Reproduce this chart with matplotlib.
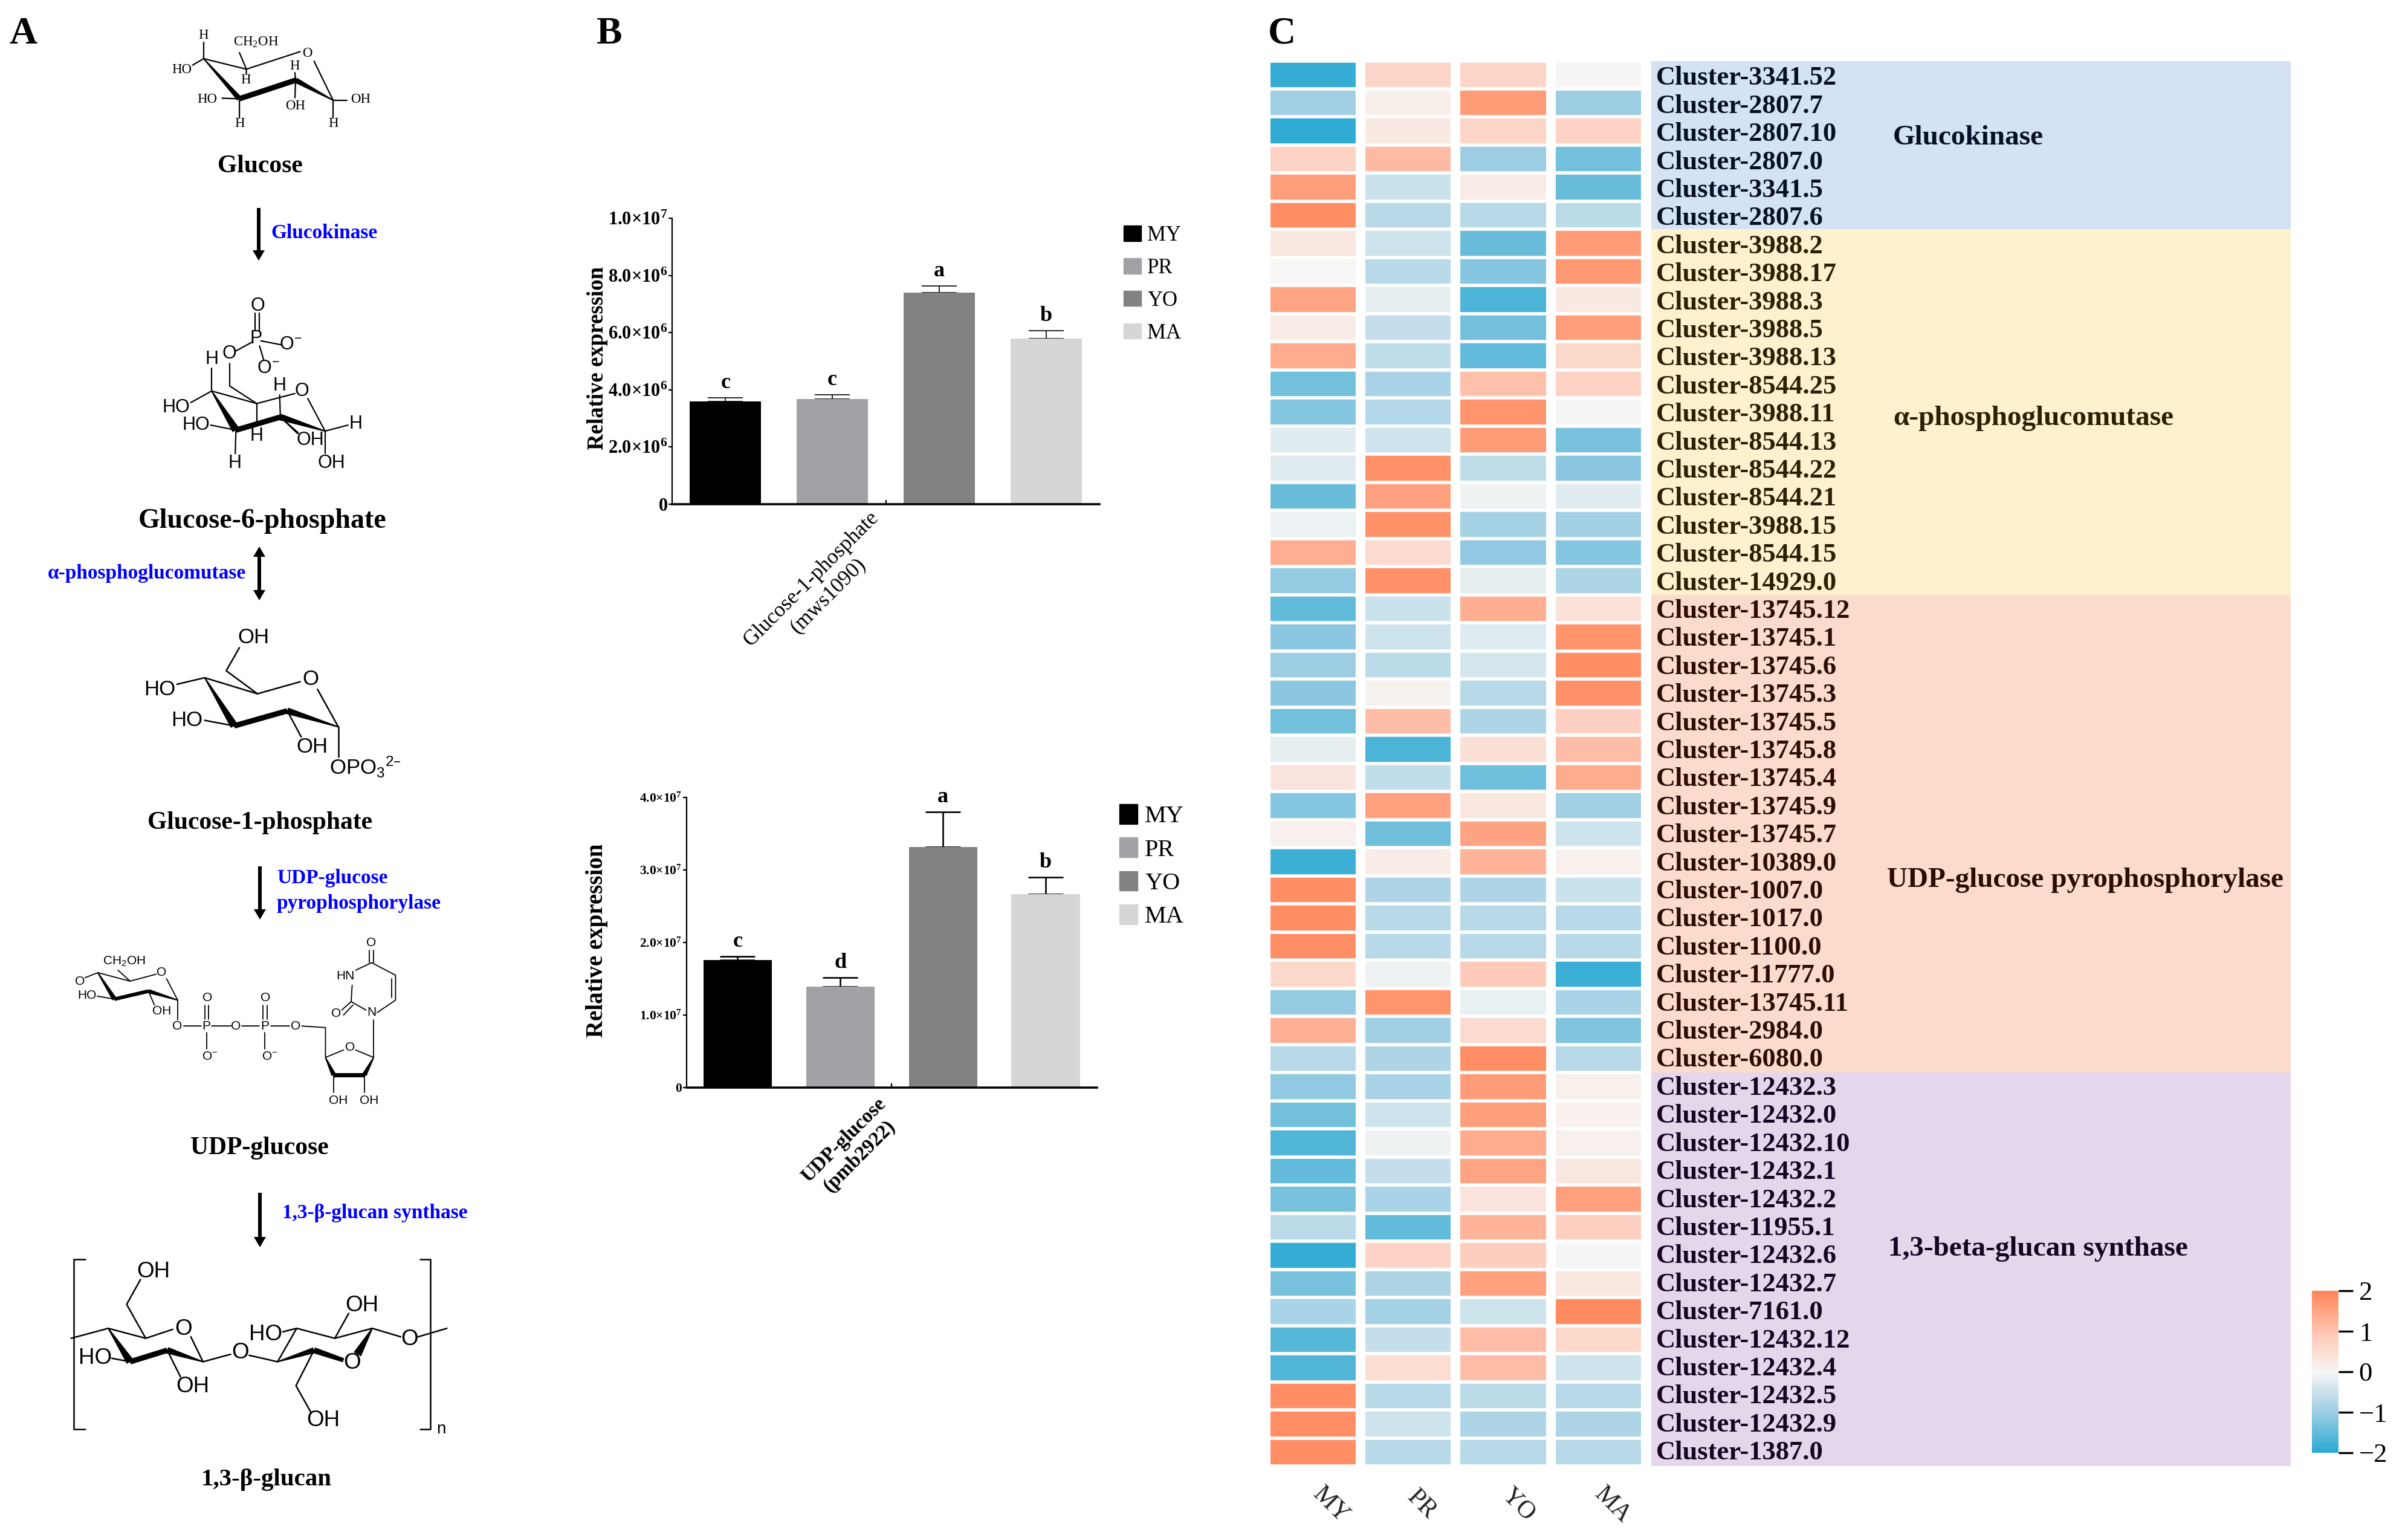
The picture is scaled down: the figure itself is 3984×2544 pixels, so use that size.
import matplotlib
matplotlib.use("Agg")
import matplotlib.pyplot as plt
import numpy as np
from matplotlib.colors import LinearSegmentedColormap, Normalize
from matplotlib.patches import Patch, Polygon, Rectangle

plt.rcParams['font.family'] = ['Liberation Serif', 'DejaVu Serif']
plt.rcParams['mathtext.default'] = 'regular'

# ---------- data ----------
stages = ['MY', 'PR', 'YO', 'MA']
stage_colors = ['#000000', '#A2A1A6', '#828282', '#D6D6D6']

g1p_values = [3.60e6, 3.68e6, 7.39e6, 5.79e6]
g1p_errors = [0.12e6, 0.14e6, 0.25e6, 0.27e6]
g1p_letters = ['c', 'c', 'a', 'b']
g1p_ticks = [0, 2e6, 4e6, 6e6, 8e6, 1e7]
g1p_ticklabels = ['0', '2.0×10$^{6}$', '4.0×10$^{6}$', '6.0×10$^{6}$', '8.0×10$^{6}$', '1.0×10$^{7}$']

udp_values = [1.755e7, 1.389e7, 3.318e7, 2.667e7]
udp_errors = [0.055e7, 0.123e7, 0.482e7, 0.23e7]
udp_letters = ['c', 'd', 'a', 'b']
udp_ticks = [0, 1e7, 2e7, 3e7, 4e7]
udp_ticklabels = ['0', '1.0×10$^{7}$', '2.0×10$^{7}$', '3.0×10$^{7}$', '4.0×10$^{7}$']

cluster_names = [
    '3341.52', '2807.7', '2807.10', '2807.0', '3341.5', '2807.6',
    '3988.2', '3988.17', '3988.3', '3988.5', '3988.13', '8544.25', '3988.11', '8544.13',
    '8544.22', '8544.21', '3988.15', '8544.15', '14929.0',
    '13745.12', '13745.1', '13745.6', '13745.3', '13745.5', '13745.8', '13745.4', '13745.9',
    '13745.7', '10389.0', '1007.0', '1017.0', '1100.0', '11777.0', '13745.11', '2984.0', '6080.0',
    '12432.3', '12432.0', '12432.10', '12432.1', '12432.2', '11955.1', '12432.6', '12432.7',
    '7161.0', '12432.12', '12432.4', '12432.5', '12432.9', '1387.0']

heat_values = [
    [-1.90, 0.65, 0.65, 0.03], [-0.95, 0.15, 1.65, -1.00], [-1.95, 0.25, 0.65, 0.70],
    [0.70, 1.15, -1.00, -1.35], [1.60, -0.50, 0.20, -1.45], [1.85, -0.70, -0.70, -0.65],
    [0.30, -0.45, -1.45, 1.65], [0.00, -0.70, -1.20, 1.70], [1.50, -0.20, -1.70, 0.25],
    [0.20, -0.55, -1.35, 1.60], [1.40, -0.60, -1.50, 0.60], [-1.35, -0.85, 1.05, 0.70],
    [-1.20, -0.75, 1.75, -0.03], [-0.25, -0.45, 1.65, -1.30], [-0.25, 1.80, -0.60, -1.15],
    [-1.45, 1.55, -0.08, -0.25], [-0.12, 1.80, -0.90, -0.95], [1.35, 0.55, -1.10, -1.20],
    [-1.05, 1.80, -0.20, -0.80], [-1.50, -0.50, 1.35, 0.40], [-1.15, -0.45, -0.27, 1.75],
    [-1.00, -0.65, -0.40, 1.85], [-1.15, 0.08, -0.70, 1.80], [-1.35, 1.10, -0.80, 0.75],
    [-0.20, -1.70, 0.45, 1.10], [0.35, -0.60, -1.40, 1.40], [-1.20, 1.55, 0.30, -0.95],
    [0.12, -1.40, 1.50, -0.45], [-1.80, 0.20, 1.25, 0.12], [1.85, -0.80, -0.80, -0.50],
    [1.85, -0.70, -0.70, -0.70], [1.85, -0.70, -0.70, -0.70], [0.60, -0.08, 0.85, -1.85],
    [-1.05, 1.75, -0.15, -0.85], [1.30, -0.95, 0.55, -1.25], [-0.70, -0.80, 1.85, -0.70],
    [-1.10, -0.85, 1.65, 0.12], [-1.35, -0.45, 1.60, 0.10], [-1.65, -0.10, 1.40, 0.12],
    [-1.50, -0.55, 1.50, 0.28], [-1.30, -0.85, 0.35, 1.55], [-0.65, -1.50, 1.25, 0.75],
    [-1.90, 0.70, 0.80, -0.03], [-1.30, -0.80, 1.55, 0.28], [-0.85, -0.90, -0.45, 1.90],
    [-1.60, -0.55, 1.10, 0.60], [-1.65, 0.50, 1.10, -0.45], [1.85, -0.70, -0.65, -0.70],
    [1.85, -0.45, -0.80, -0.80], [1.85, -0.70, -0.70, -0.70]]

group_names = ['Glucokinase', 'α-phosphoglucomutase', 'UDP-glucose pyrophosphorylase', '1,3-beta-glucan synthase']
group_sizes = [6, 13, 17, 14]
group_bands = ['#D5E2F3', '#FEF1CE', '#FBDCCC', '#E4D6EB']
group_inks = ['#050F26', '#2E1E05', '#2A0E05', '#150522']

# ---------- layout helpers ----------
W, H = 3984, 2544
PT = 0.72  # points per pixel at dpi 100
fig = plt.figure(figsize=(W / 100, H / 100), dpi=100, facecolor='white')


def px_axes(x0, y0, x1, y1, **kw):
    return fig.add_axes([x0 / W, 1 - y1 / H, (x1 - x0) / W, (y1 - y0) / H], **kw)


art = px_axes(0, 0, W, H)
art.set_xlim(0, W)
art.set_ylim(H, 0)
art.axis('off')


def z1(p):
    return (p[0] / 1.742, p[1] / 1.206)


def z2(p):
    return (p[0] / 1.742, 1250 + p[1] / 1.212)


def bonds(z, segs, lw=1.6):
    for s in segs:
        pts = [z(p) for p in s]
        art.plot(*zip(*pts), color='black', lw=lw, solid_capstyle='round', solid_joinstyle='round')


def wedge(z, a, b, wa, wb):
    a, b = np.array(z(a)), np.array(z(b))
    d = (b - a) / np.hypot(*(b - a))
    n = np.array([-d[1], d[0]])
    art.add_patch(Polygon([a + n * wa / 2, b + n * wb / 2, b - n * wb / 2, a - n * wa / 2],
                          closed=True, fc='black', ec='none'))


def labels(z, items, size, family='Liberation Sans'):
    for s, x, y in items:
        px, py = z((x, y))
        art.text(px, py, s, fontsize=size, family=family, ha='center', va='center', color='black')


def arrow(x, y0, y1, double=False):
    shaft, hw, hl = 3, 10, 17
    if double:
        pts = [(x, y0), (x + hw, y0 + hl), (x + shaft, y0 + hl), (x + shaft, y1 - hl), (x + hw, y1 - hl),
               (x, y1), (x - hw, y1 - hl), (x - shaft, y1 - hl), (x - shaft, y0 + hl), (x - hw, y0 + hl)]
    else:
        pts = [(x - shaft, y0), (x + shaft, y0), (x + shaft, y1 - hl), (x + hw, y1 - hl),
               (x, y1), (x - hw, y1 - hl), (x - shaft, y1 - hl)]
    art.add_patch(Polygon(pts, closed=True, fc='black', ec='none'))


# ---------- panel letters ----------
for s, x, y in [('A', 38, 57), ('B', 1008, 57), ('C', 2121, 57)]:
    art.text(x, y, s, fontsize=46, fontweight='bold', ha='center', va='center')

# ---------- panel A text ----------
for s, x, y, fs in [('Glucose', 430, 275, 30), ('Glucose-6-phosphate', 434, 862, 33),
                    ('Glucose-1-phosphate', 430, 1361, 30), ('UDP-glucose', 429, 1899, 30),
                    ('1,3-β-glucan', 441, 2448, 29.5)]:
    art.text(x, y, s, fontsize=fs, fontweight='bold', ha='center', va='center')
for s, x, y in [('Glucokinase', 448, 386), ('α-phosphoglucomutase', 79, 949),
                ('UDP-glucose', 458, 1452), ('pyrophosphorylase', 458, 1494),
                ('1,3-β-glucan synthase', 467, 2007)]:
    art.text(x, y, s, fontsize=24, fontweight='bold', color='#0000FF', ha='left', va='center')
arrow(428, 344, 431)
arrow(429, 904, 993, double=True)
arrow(430, 1433, 1521)
arrow(430, 1973, 2063)

# Glucose
labels(z1, [('H', 587, 70), ('CH$_{2}$OH', 737, 84), ('O', 886, 107), ('HO', 524, 139), ('H', 850, 132),
            ('H', 708, 160), ('HO', 598, 198), ('OH', 851, 212), ('OH', 1040, 198), ('H', 691, 247),
            ('H', 961, 247)], 16.5, 'Liberation Serif')
bonds(z1, [[(587, 117), (710, 138), (865, 103)], [(905, 122), (960, 200)], [(587, 85), (587, 117)],
           [(555, 130), (587, 117)], [(690, 105), (710, 138), (710, 148)], [(850, 145), (852, 160), (850, 195)],
           [(640, 196), (690, 197), (690, 235)], [(1000, 200), (960, 200), (960, 235)]])
wedge(z1, (587, 117), (690, 197), 2, 9)
wedge(z1, (690, 197), (852, 160), 9, 9)
wedge(z1, (852, 160), (960, 200), 9, 2)

# Glucose-6-phosphate
labels(z1, [('O', 742, 610), ('P', 738, 675), ('O$^{-}$', 838, 688), ('O', 661, 706), ('O$^{-}$', 773, 735),
            ('H', 610, 716), ('H', 806, 770), ('O', 870, 780), ('HO', 508, 813), ('HO', 565, 848),
            ('H', 740, 870), ('H', 1025, 846), ('OH', 895, 878), ('OH', 955, 924), ('H', 677, 924)], 22)
bonds(z1, [[(735, 625), (735, 660)], [(747, 625), (747, 660)], [(680, 700), (725, 683)], [(752, 680), (812, 688)],
           [(748, 690), (760, 718)], [(662, 725), (662, 770), (740, 805)], [(610, 780), (740, 805), (850, 785)],
           [(887, 795), (937, 860)], [(610, 735), (610, 780)], [(550, 803), (610, 780)], [(607, 848), (680, 858)],
           [(680, 858), (678, 905)], [(740, 805), (740, 850)], [(806, 788), (808, 832)], [(937, 860), (1003, 848)],
           [(937, 860), (937, 905)]])
wedge(z1, (610, 780), (680, 858), 2, 13)
wedge(z1, (680, 858), (808, 832), 9, 9)
wedge(z1, (808, 832), (937, 860), 11, 2)
wedge(z1, (808, 832), (860, 865), 2, 4)

# Glucose-1-phosphate
labels(z1, [('OH', 730, 1272), ('O', 895, 1355), ('HO', 460, 1375), ('HO', 538, 1437), ('OH', 900, 1490)], 25)
art.text(*z1((950, 1530)), 'OPO$_{3}$$^{2–}$', fontsize=25, family='Liberation Sans', ha='left', va='center')
bonds(z1, [[(690, 1292), (652, 1338), (742, 1384), (865, 1360)], [(590, 1352), (742, 1384)], [(915, 1375), (975, 1450)],
           [(510, 1365), (590, 1352)], [(590, 1437), (675, 1448)], [(828, 1418), (868, 1470)], [(975, 1450), (975, 1510)]],
      lw=1.8)
wedge(z1, (590, 1352), (675, 1448), 2, 13)
wedge(z1, (675, 1448), (828, 1418), 9, 9)
wedge(z1, (828, 1418), (975, 1450), 11, 2)

# UDP-glucose
labels(z2, [('CH$_{2}$OH', 358, 413), ('O', 465, 435), ('HO', 250, 481), ('OH', 467, 512), ('O', 510, 542),
            ('O', 597, 485), ('P', 595, 542), ('O', 680, 542), ('O', 765, 485), ('P', 763, 542), ('O', 852, 542),
            ('O$^{-}$', 605, 603), ('O$^{-}$', 778, 603), ('O', 1070, 375), ('HN', 995, 442), ('O', 968, 517),
            ('N', 1071, 515), ('O', 1008, 585), ('OH', 975, 692), ('OH', 1063, 692), ('O', 230, 453)], 15)
art.add_patch(Rectangle(z2((180, 430)), 22, 40, fc='white', ec='none', zorder=3))
bonds(z2, [[(282, 435), (375, 452), (450, 438)], [(480, 447), (512, 490)], [(245, 445), (282, 435)], [(280, 482), (330, 488)],
           [(428, 472), (445, 500)], [(512, 490), (512, 530)], [(340, 430), (375, 452)], [(530, 542), (580, 542)],
           [(610, 542), (665, 542)], [(697, 542), (748, 542)], [(780, 542), (835, 542)], [(590, 500), (590, 528)],
           [(601, 500), (601, 528)], [(758, 500), (758, 528)], [(770, 500), (770, 528)], [(595, 555), (595, 588)],
           [(763, 555), (763, 588)], [(870, 542), (938, 545), (938, 605), (990, 590)], [(1025, 590), (1077, 605)],
           [(962, 640), (962, 675)], [(1050, 640), (1050, 675)], [(1077, 605), (1077, 530)],
           [(1065, 390), (1065, 415)], [(1077, 390), (1077, 415)], [(1025, 430), (1071, 415), (1140, 440), (1140, 490), (1087, 515)],
           [(1128, 447), (1128, 485)], [(1055, 510), (1012, 493), (1015, 460)], [(1012, 493), (985, 510)], [(1017, 500), (990, 520)]],
      lw=1.3)
wedge(z2, (282, 435), (330, 488), 2, 8)
wedge(z2, (330, 488), (428, 472), 6, 6)
wedge(z2, (428, 472), (512, 490), 7, 2)
wedge(z2, (938, 605), (962, 640), 2, 8)
wedge(z2, (962, 640), (1050, 640), 7, 7)
wedge(z2, (1050, 640), (1077, 605), 8, 2)

# 1,3-beta-glucan
labels(z2, [('OH', 443, 1035), ('O', 528, 1150), ('HO', 275, 1208), ('OH', 555, 1265), ('O', 692, 1197), ('HO', 765, 1160),
            ('OH', 1043, 1102), ('O', 1180, 1170), ('O', 1015, 1218), ('OH', 932, 1332)], 26.5)
labels(z2, [('n', 1272, 1350)], 20)
bonds(z2, [[(245, 1010), (213, 1010), (213, 1350), (245, 1350)], [(1210, 1010), (1240, 1010), (1240, 1350), (1210, 1350)],
           [(205, 1168), (312, 1148), (420, 1168), (498, 1150)], [(550, 1165), (585, 1215)], [(420, 1168), (365, 1100), (405, 1050)],
           [(322, 1208), (375, 1215)], [(482, 1192), (520, 1245)], [(585, 1215), (665, 1200)], [(718, 1202), (800, 1215)],
           [(815, 1155), (855, 1148), (965, 1168), (1073, 1148), (1155, 1165)], [(800, 1215), (855, 1148)], [(965, 1168), (1005, 1118)],
           [(1205, 1165), (1288, 1148)], [(905, 1192), (853, 1263), (895, 1315)]], lw=1.8)
wedge(z2, (312, 1148), (375, 1215), 2, 13)
wedge(z2, (375, 1215), (482, 1192), 9, 9)
wedge(z2, (482, 1192), (585, 1215), 11, 2)
wedge(z2, (800, 1215), (905, 1192), 2, 10)
wedge(z2, (905, 1192), (990, 1212), 10, 7)
wedge(z2, (1073, 1148), (1030, 1200), 2, 14)


# ---------- panel B ----------
def bar_panel(rect, values, errors, letters, ticks, ticklabels, ymax, tick_fs, err_lw, x_label, x_xy, x_kw,
              yl_x, yl_y, yl_fs, leg_fs, leg_anchor, leg_hw, leg_hh, leg_sp):
    ax = px_axes(*rect)
    ax.patch.set_alpha(0)
    x = np.arange(len(values))
    ax.bar(x, values, width=0.667, color=stage_colors, zorder=2)
    ax.errorbar(x, values, yerr=[np.zeros(len(errors)), errors], fmt='none', ecolor='black',
                elinewidth=err_lw, capthick=err_lw, capsize=29 * PT, zorder=1)
    ax.set_xlim(-0.5, 3.5)
    ax.set_ylim(0, ymax)
    ax.set_yticks(ticks)
    ax.set_yticklabels(ticklabels, fontsize=tick_fs, fontweight='bold')
    ax.set_xticks([1.5])
    ax.set_xticklabels([''])
    ax.tick_params(axis='x', direction='in', length=7 * PT, width=1.6)
    ax.tick_params(axis='y', direction='out', length=6 * PT, width=1.6, pad=1)
    for sp in ['top', 'right']:
        ax.spines[sp].set_visible(False)
    ax.spines['left'].set_linewidth(1.6)
    ax.spines['bottom'].set_linewidth(2.6)
    for xi, v, e, s in zip(x, values, errors, letters):
        ax.annotate(s, (xi, v + e), xytext=(0, 16 * PT), textcoords='offset points', ha='center', va='baseline',
                    fontsize=26, fontweight='bold')
    art.text(x_xy[0], x_xy[1], x_label, rotation=45, ha='center', va='center', ma='center',
             linespacing=1.25, **x_kw)
    art.text(yl_x, yl_y, 'Relative expression', rotation=90, ha='center', va='center', fontsize=yl_fs, fontweight='bold')
    handles = [Patch(color=c, label=s) for c, s in zip(stage_colors, stages)]
    ax.legend(handles=handles, loc='upper left', bbox_to_anchor=(leg_anchor[0] / W, 1 - leg_anchor[1] / H),
              bbox_transform=fig.transFigure, frameon=False, fontsize=leg_fs, borderpad=0, borderaxespad=0,
              handlelength=leg_hw, handleheight=leg_hh, labelspacing=leg_sp, handletextpad=0.3)
    return ax


bar_panel((1112, 361, 1819, 834), g1p_values, g1p_errors, g1p_letters, g1p_ticks, g1p_ticklabels, 1e7, 22, 1.2,
          'Glucose-1-phosphate\n(mws1090)', (1356, 972), {'fontsize': 25.5}, 988, 592, 26.5, 25, (1859, 373), 0.835, 0.76, 0.6)
bar_panel((1135.5, 1319, 1815, 1798.5), udp_values, udp_errors, udp_letters, udp_ticks, udp_ticklabels, 4e7, 15.5, 1.9,
          'UDP-glucose\n(pmb2922)', (1409, 1899), {'fontsize': 24, 'fontweight': 'bold'}, 988, 1556, 28, 29, (1852, 1330), 0.75, 0.87, 0.40)

# ---------- panel C ----------
cmap = LinearSegmentedColormap.from_list(
    'heat', ['#2AA9D2', '#9CCDE3', '#F7F6F5', '#FFC4B0', '#FF8559'])
norm = Normalize(-2, 2)
heat = np.array(heat_values)
n_rows, n_cols = heat.shape

hx = px_axes(2093.5, 100.5, 2723, 2425)
mesh = hx.pcolormesh(np.arange(n_cols + 1), np.arange(n_rows + 1), heat, cmap=cmap, norm=norm,
                     edgecolors='none')
hx.set_xlim(0, n_cols)
hx.set_ylim(n_rows, 0)
hx.hlines(np.arange(n_rows + 1), 0, n_cols, color='white', lw=5.5 * PT)
hx.vlines(np.arange(n_cols + 1), 0, n_rows, color='white', lw=16 * PT)
hx.set_xticks([])
hx.set_yticks([])
for sp in hx.spines.values():
    sp.set_visible(False)
label_shift = [30, 22, 25, 23]
for i, s in enumerate(stages):
    hx.annotate(s, (i + 0.5, 0), xycoords=('data', 'axes fraction'),
                xytext=(label_shift[i] * PT, -64 * PT), textcoords='offset points',
                rotation=-45, ha='center', va='center', fontsize=30, color='#222222', annotation_clip=False)

bx = px_axes(2732, 100.5, 3790, 2425)
bx.patch.set_alpha(0)
bx.set_xlim(2732, 3790)
bx.set_ylim(n_rows, 0)
bx.axis('off')
group_label_x = [3132, 3132, 3122, 3124]
group_label_rows = [2.74, 12.72, 29.16, 42.28]
start = 0
for name, size, band, ink, lx, ly in zip(group_names, group_sizes, group_bands, group_inks, group_label_x, group_label_rows):
    bx.axhspan(start, start + size, color=band, lw=0, zorder=0)
    for r in range(start, start + size):
        bx.text(2740, r + 0.53 + 0.09 * (1 - r / 49), 'Cluster-' + cluster_names[r], fontsize=32, fontweight='bold',
                color=ink, ha='left', va='center', zorder=2)
    bx.text(lx, ly, name, fontsize=34, fontweight='bold', color=ink, ha='left', va='center', zorder=2, clip_on=False)
    start += size

cax = px_axes(3825, 2135, 3869, 2403)
cb = fig.colorbar(mesh, cax=cax, ticks=[-2, -1, 0, 1, 2])
cb.outline.set_visible(False)
cb.ax.tick_params(length=24 * PT, width=2.4, labelsize=32, pad=7)
cb.ax.set_yticklabels(['−2', '−1', '0', '1', '2'])

fig.savefig('out.png', dpi=100, facecolor='white')
